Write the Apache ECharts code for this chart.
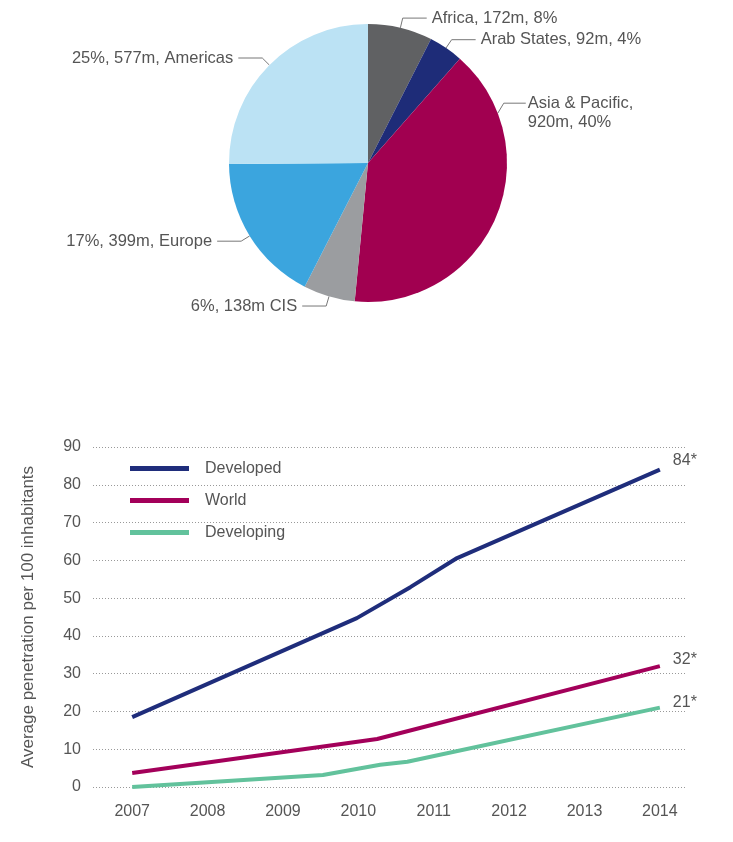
<!DOCTYPE html>
<html lang="en">
<head>
    <meta charset="UTF-8">
    <title>Mobile broadband subscriptions</title>
    <script src="https://cdn.jsdelivr.net/npm/echarts@6/dist/echarts.min.js"></script>
    <style>
        html, body { margin: 0; padding: 0; background: #fff; }
        #chart { width: 733px; height: 842px; }
    </style>
</head>
<body>
    <div id="chart"></div>
    <script>
        // pie: subscriptions by region (millions)
        var regionNames = ['Africa', 'Arab States', 'Asia & Pacific', 'CIS', 'Europe', 'Americas'];
        var regionValues = [172, 92, 920, 138, 399, 577];
        var regionLabels = [
            'Africa, 172m, 8%',
            'Arab States, 92m, 4%',
            'Asia & Pacific,\n920m, 40%',
            '6%, 138m CIS',
            '17%, 399m, Europe',
            '25%, 577m, Americas'
        ];
        var regionColors = ['#606163', '#1e2c78', '#a10050', '#9b9da0', '#3ba5de', '#bbe2f4'];

        // lines: penetration per 100 inhabitants
        var yearTicks = [2007, 2008, 2009, 2010, 2011, 2012, 2013, 2014];
        var developedX = [2007, 2009.98, 2010.69, 2011.31, 2014];
        var developedY = [18.5, 44.7, 52.9, 60.6, 84];
        var worldX = [2007, 2010.25, 2014];
        var worldY = [3.7, 12.7, 32];
        var developingX = [2007, 2009.53, 2010.29, 2010.65, 2014];
        var developingY = [0, 3.2, 5.9, 6.7, 21];

        var textColor = '#555';
        var font = 'Liberation Sans, Arial, sans-serif';
        var pieCenter = [368, 163];
        var pieRadius = 139;

        function pairs(xs, ys) {
            return xs.map(function (x, i) { return [x, ys[i]]; });
        }

        // leader for the big slice: anchored high on its rim (69deg from 12 o'clock)
        function asiaLeader() {
            var a = 69 * Math.PI / 180;
            var p0 = [pieCenter[0] + pieRadius * Math.sin(a), pieCenter[1] - pieRadius * Math.cos(a)];
            var p1 = [p0[0] + 6, p0[1] - 10];
            var p2 = [p1[0] + 22, p1[1]];
            return { points: [p0, p1, p2], x: p2[0] + 2, y: p1[1] + 9.5 };
        }

        var chart = echarts.init(document.getElementById('chart'));
        var option = {
            animation: false,
            textStyle: { fontFamily: font },
            legend: {
                orient: 'vertical',
                left: 125,
                top: 454,
                icon: 'rect',
                itemWidth: 59,
                itemHeight: 5,
                itemGap: 13,
                data: ['Developed', 'World', 'Developing'],
                textStyle: { fontSize: 16, color: textColor, lineHeight: 19, padding: [0, 0, 0, 11] }
            },
            grid: { left: 93, right: 46, top: 447, bottom: 55 },
            xAxis: {
                type: 'value',
                min: 2006.48,
                max: 2014.36,
                axisLine: { show: false },
                axisTick: { show: false },
                splitLine: { show: false },
                axisLabel: {
                    customValues: yearTicks,
                    color: textColor,
                    fontSize: 16,
                    margin: 17,
                    formatter: function (v) { return String(v); }
                }
            },
            yAxis: {
                type: 'value',
                min: 0,
                max: 90,
                interval: 10,
                name: 'Average penetration per 100 inhabitants',
                nameLocation: 'middle',
                nameRotate: 90,
                nameGap: 56,
                nameTextStyle: { fontSize: 17, color: textColor },
                axisLine: { show: false },
                axisTick: { show: false },
                axisLabel: { color: textColor, fontSize: 16, margin: 12 },
                splitLine: { lineStyle: { type: [1, 2], color: '#999', width: 1 } }
            },
            series: [
                {
                    type: 'pie',
                    center: pieCenter,
                    radius: pieRadius,
                    startAngle: 90,
                    clockwise: true,
                    silent: true,
                    data: regionNames.map(function (n, i) {
                        return { name: n, value: regionValues[i], itemStyle: { color: regionColors[i] } };
                    }),
                    label: {
                        color: textColor,
                        fontSize: 16.5,
                        lineHeight: 19,
                        formatter: function (p) { return regionLabels[p.dataIndex]; }
                    },
                    labelLine: {
                        length: 10,
                        length2: 24,
                        lineStyle: { color: '#777', width: 1 }
                    },
                    labelLayout: function (p) {
                        if (p.dataIndex === 2) {
                            var l = asiaLeader();
                            return { x: l.x, y: l.y, align: 'left', verticalAlign: 'middle', labelLinePoints: l.points };
                        }
                    }
                },
                {
                    name: 'Developed',
                    type: 'line',
                    symbol: 'none',
                    color: '#1f2d7b',
                    lineStyle: { width: 4 },
                    data: pairs(developedX, developedY),
                    endLabel: {
                        show: true, color: textColor, fontSize: 16, offset: [5, -9],
                        formatter: function (p) { return p.value[1] + '*'; }
                    }
                },
                {
                    name: 'World',
                    type: 'line',
                    symbol: 'none',
                    color: '#a3005a',
                    lineStyle: { width: 4 },
                    data: pairs(worldX, worldY),
                    endLabel: {
                        show: true, color: textColor, fontSize: 16, offset: [5, -7],
                        formatter: function (p) { return p.value[1] + '*'; }
                    }
                },
                {
                    name: 'Developing',
                    type: 'line',
                    symbol: 'none',
                    color: '#62c29c',
                    lineStyle: { width: 4 },
                    data: pairs(developingX, developingY),
                    endLabel: {
                        show: true, color: textColor, fontSize: 16, offset: [5, -5],
                        formatter: function (p) { return p.value[1] + '*'; }
                    }
                }
            ]
        };
        chart.setOption(option);
    </script>
</body>
</html>
